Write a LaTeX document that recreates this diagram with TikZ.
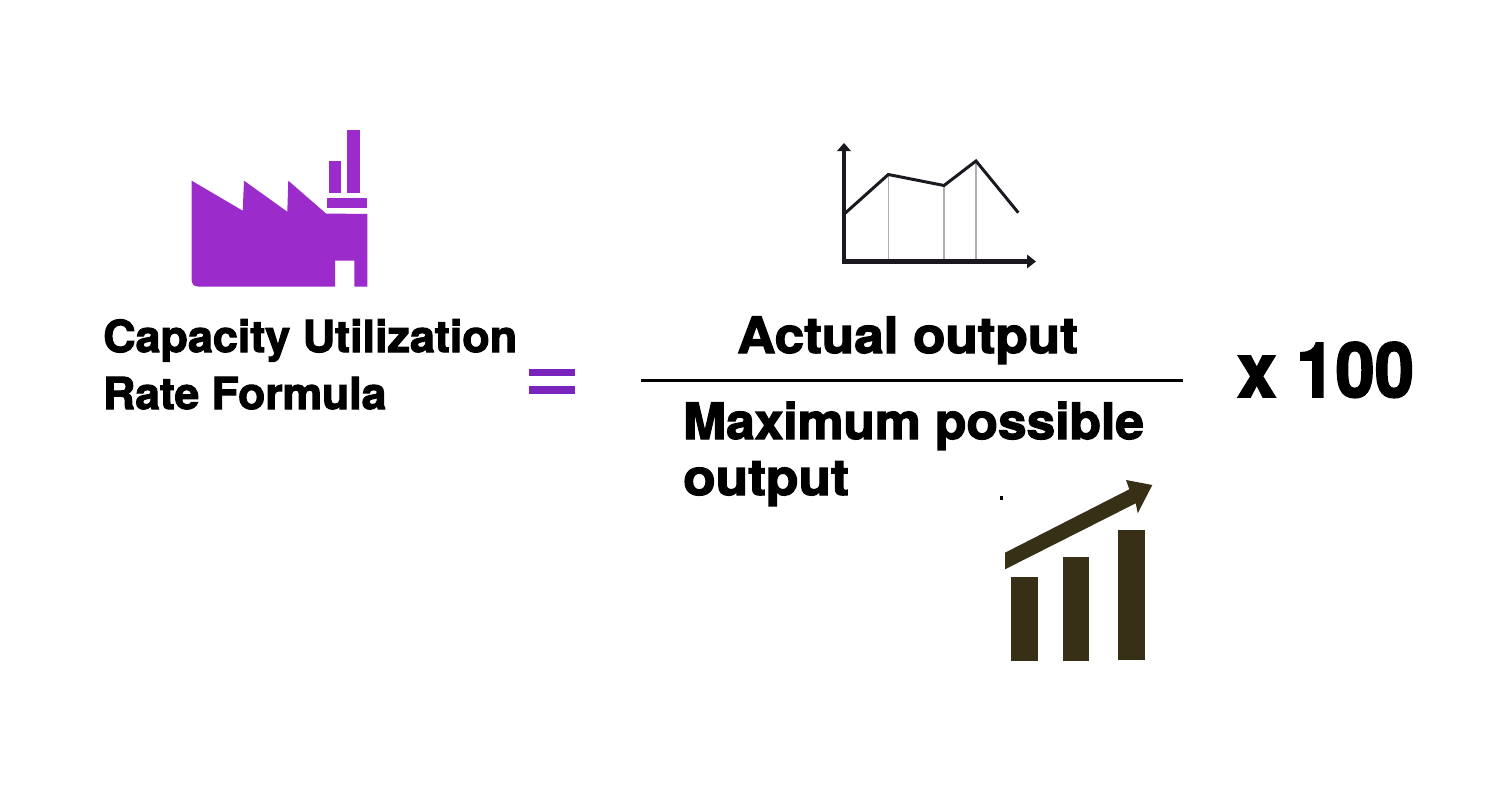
\documentclass[tikz,border=0pt]{standalone}
\usepackage{fontspec}
\setmainfont{TeX Gyre Heros}[BoldFeatures={FakeBold=2.4}]
\begin{document}
\begin{tikzpicture}[x=1pt,y=-1pt,
  lbl/.style={anchor=base west,inner sep=0pt,font=\bfseries\fontsize{50}{50}\selectfont,text=black},
  lblsmall/.style={lbl,font=\bfseries\fontsize{44}{44}\selectfont},
  lblbig/.style={lbl,font=\bfseries\fontsize{76}{76}\selectfont},
  purplefill/.style={fill=factory,draw=none},
  barfill/.style={fill=olivedark,draw=none}]
\definecolor{factory}{RGB}{155,43,203}
\definecolor{eqpurple}{RGB}{122,36,190}
\definecolor{olivedark}{RGB}{56,48,22}
\definecolor{greyline}{RGB}{175,175,175}
\definecolor{axis}{RGB}{28,24,32}
\useasboundingbox[fill=white] (0,0) rectangle (1488,800);
% factory
\fill[purplefill] (191.7,180.7) -- (242.7,210.7) -- (244,180.7) -- (287.3,211.7) -- (288.3,180.7) -- (326,213.5) -- (367.3,214) -- (367.3,286.5) -- (354.3,286.5) -- (354.3,260.7) -- (335,260.7) -- (335,286.5) -- (198,286.5) .. controls (194,286.5) and (191.7,284) .. (191.7,280) -- cycle;
\fill[purplefill] (328.7,161.3) rectangle (341,192.7);
\fill[purplefill] (347,130) rectangle (359.7,192.7);
\fill[purplefill] (327,198.3) rectangle (367.3,207.7);
% line chart
\coordinate (ytop) at (844,143);
\coordinate (xend) at (1036,261.5);
\foreach \x/\y in {888.5/175,944/186,976/161}{\draw[greyline,line width=1.2pt] (\x,\y) -- (\x,261);}
\draw[axis,line width=3pt,line join=miter] (845,213.3) -- (888.3,174.5) -- (944,185.5) -- (976,161) -- (1018.3,212.7);
\draw[axis,line width=4.4pt] (844,150) -- (844,261.5) -- (1028,261.5);
\fill[axis] (ytop) -- (851,151) -- (837,151) -- cycle;
\fill[axis] (xend) -- (1027,254.5) -- (1027,268.5) -- cycle;
% text
\node[lblsmall] (t1) at (103,352) {\scalebox{1.02}[1]{Capacity Utilization}};
\node[lblsmall] (t2) at (103,409) {\scalebox{1.01}[1]{Rate Formula}};
\node[lbl] (num) at (737,353) {\scalebox{1.06}[1]{Actual output}};
\node[lbl] (den1) at (683,439) {\scalebox{1.03}[1]{Maximum possible}};
\node[lbl] (den2) at (683,495) {\scalebox{1.065}[1]{output}};
\node[lblbig] (mul) at (1237,397) {\scalebox{0.93}[1]{x 100}};
% equals
\fill[eqpurple] (529,369) rectangle (575,376);
\fill[eqpurple] (529,386.3) rectangle (575,393.7);
% fraction bar
\coordinate (fa) at (641,380.5);
\coordinate (fb) at (1183,380.5);
\draw[black,line width=3.6pt] (fa) -- (fb);
% bar chart
\fill[barfill] (1011,577.3) rectangle (1037.7,660.7);
\fill[barfill] (1062.7,557.3) rectangle (1089.3,660.7);
\fill[barfill] (1118.3,530) rectangle (1145,660.3);
\fill[barfill] (1005,552.7) -- (1129.3,489.3) -- (1126,480) -- (1152.3,485) -- (1137.7,513.3) -- (1135.7,503.3) -- (1005,569.3) -- cycle;
\fill[black] (1000,496) rectangle (1002.5,499.5);
\end{tikzpicture}
\end{document}
